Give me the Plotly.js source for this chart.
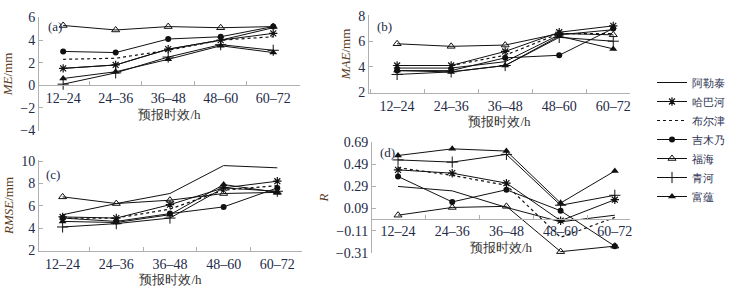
<!DOCTYPE html>
<html>
<head>
<meta charset="utf-8">
<script src="https://cdn.plot.ly/plotly-3.0.1.min.js"></script>
<style>
html,body{margin:0;padding:0;background:#fff;}
#chart{width:737px;height:289px;}
</style>
</head>
<body>
<div id="chart"></div>
<script>
// ---- data ----
const categories = ['12–24','24–36','36–48','48–60','60–72'];
const stations = ['阿勒泰','哈巴河','布尔津','吉木乃','福海','青河','富蕴'];

// (a) ME / mm
const meAletai   = [1.5, 1.8, 3.2, 4.0, 5.1];
const meHabahe   = [1.5, 1.8, 3.2, 4.0, 4.6];
const meBuerjin  = [2.3, 2.4, 3.1, 4.0, 4.3];
const meJimunai  = [3.0, 2.9, 4.1, 4.3, 5.2];
const meFuhai    = [5.3, 4.9, 5.2, 5.1, 5.2];
const meQinghe   = [0.1, 1.1, 2.5, 3.6, 3.1];
const meFuyun    = [0.6, 1.2, 2.3, 3.5, 2.9];

// (b) MAE / mm
const maeAletai  = [3.9, 3.9, 4.4, 6.5, 6.9];
const maeHabahe  = [4.1, 4.1, 5.2, 6.7, 7.2];
const maeBuerjin = [4.1, 4.1, 4.9, 6.6, 6.6];
const maeJimunai = [3.7, 3.7, 4.7, 4.9, 7.0];
const maeFuhai   = [5.8, 5.6, 5.7, 6.6, 6.5];
const maeQinghe  = [3.4, 3.6, 4.1, 6.3, 6.0];
const maeFuyun   = [3.7, 3.6, 4.1, 6.4, 5.4];

// (c) RMSE / mm
const rmseAletai  = [5.2, 6.2, 7.1, 9.6, 9.4];
const rmseHabahe  = [5.0, 4.9, 6.1, 7.6, 8.2];
const rmseBuerjin = [4.9, 4.9, 5.7, 7.4, 7.8];
const rmseJimunai = [4.9, 4.6, 5.3, 5.9, 7.6];
const rmseFuhai   = [6.8, 6.2, 6.5, 7.1, 7.2];
const rmseQinghe  = [4.1, 4.4, 4.9, 7.6, 7.3];
const rmseFuyun   = [4.6, 4.5, 5.2, 7.9, 7.2];

// (d) R
const rAletai  = [0.29, 0.25, 0.10, -0.03, 0.03];
const rHabahe  = [0.44, 0.41, 0.32, -0.02, 0.17];
const rBuerjin = [0.46, 0.39, 0.30, -0.17, 0.01];
const rJimunai = [0.38, 0.15, 0.26, 0.07, -0.25];
const rFuhai   = [0.03, 0.10, 0.11, -0.30, -0.25];
const rQinghe  = [0.53, 0.51, 0.58, 0.12, 0.21];
const rFuyun   = [0.57, 0.63, 0.61, 0.14, 0.43];

const rTicks = [-0.31, -0.11, 0.09, 0.29, 0.49, 0.69];

// ---- styles ----
const INK = '#111';
const styles = [
  {mode:'lines', line:{color:INK, width:1}},
  {mode:'lines+markers', line:{color:INK, width:1}, marker:{symbol:'asterisk-open', size:7, color:INK, line:{width:1.2, color:INK}}},
  {mode:'lines', line:{color:INK, width:1.2, dash:'dot'}},
  {mode:'lines+markers', line:{color:INK, width:1}, marker:{symbol:'circle', size:6, color:INK}},
  {mode:'lines+markers', line:{color:INK, width:1}, marker:{symbol:'triangle-up-open', size:7, color:INK, line:{width:1, color:INK}}},
  {mode:'lines+markers', line:{color:INK, width:1}, marker:{symbol:'cross-thin-open', size:8, color:INK, line:{width:1, color:INK}}},
  {mode:'lines+markers', line:{color:INK, width:1}, marker:{symbol:'triangle-up', size:7, color:INK}}
];

const panels = [
  {xa:'x',  ya:'y',  series:[meAletai,meHabahe,meBuerjin,meJimunai,meFuhai,meQinghe,meFuyun]},
  {xa:'x2', ya:'y2', series:[maeAletai,maeHabahe,maeBuerjin,maeJimunai,maeFuhai,maeQinghe,maeFuyun]},
  {xa:'x3', ya:'y3', series:[rmseAletai,rmseHabahe,rmseBuerjin,rmseJimunai,rmseFuhai,rmseQinghe,rmseFuyun]},
  {xa:'x4', ya:'y4', series:[rAletai,rHabahe,rBuerjin,rJimunai,rFuhai,rQinghe,rFuyun]}
];

const traces = [];
panels.forEach((p, pi) => {
  p.series.forEach((vals, si) => {
    const st = styles[si];
    traces.push(Object.assign({
      type:'scatter', x:categories, y:vals, xaxis:p.xa, yaxis:p.ya,
      name:stations[si], legendgroup:stations[si], showlegend: pi === 0,
      cliponaxis:false
    }, JSON.parse(JSON.stringify(st))));
  });
});

const FONT = 'Times New Roman, Liberation Serif, DejaVu Serif, serif';
const TICKC = '#232a48';
const TITC = '#5a3b22';
const AXC = '#b0b0b0';

function xAxis(domain, range, extra) {
  return Object.assign({
    domain:domain, range:range, type:'category',
    showline:true, linecolor:AXC, linewidth:1, mirror:false,
    showgrid:false, zeroline:false,
    ticks:'inside', ticklen:4, tickcolor:AXC, tickson:'boundaries',
    tickfont:{family:FONT, size:14, color:TICKC},
    title:{text:'预报时效/h', font:{family:FONT, size:13, color:'#333'}, standoff:4},
    automargin:false, fixedrange:true
  }, extra);
}
function yAxis(domain, range, titleText, extra) {
  return Object.assign({
    domain:domain, range:range,
    showline:true, linecolor:AXC, linewidth:1,
    showgrid:false, zeroline:false,
    ticks:'inside', ticklen:4, tickcolor:AXC,
    tickfont:{family:FONT, size:14, color:TICKC},
    title:{text:titleText, font:{family:FONT, size:13, color:TITC}, standoff:4},
    automargin:false, fixedrange:true
  }, extra);
}

const W = 737, H = 289;
const px = v => v / W;
const py = v => 1 - v / H;

const layout = {
  width:W, height:H,
  margin:{l:0, r:0, t:0, b:0},
  paper_bgcolor:'#fff', plot_bgcolor:'rgba(0,0,0,0)',
  font:{family:FONT, size:13, color:TICKC},
  showlegend:true,
  legend:{x:px(652), y:py(68), xanchor:'left', yanchor:'top',
          font:{family:FONT, size:11, color:'#2a2f50'}, tracegroupgap:0,
          itemwidth:30, bgcolor:'rgba(0,0,0,0)'},
  xaxis: xAxis([px(39), px(300)], [-0.46, 4.51], {anchor:'free', position:py(85.4)}),
  yaxis: yAxis([py(131), py(17)], [-4.05, 6.05], '<i>ME</i>/mm', {anchor:'x', dtick:2, tick0:0}),
  xaxis2: xAxis([px(369), px(630)], [-0.52, 4.31], {anchor:'y2'}),
  yaxis2: yAxis([py(93), py(15)], [1.95, 8.05], '<i>MAE</i>/mm', {anchor:'x2', dtick:2, tick0:0}),
  xaxis3: xAxis([px(39), px(302)], [-0.44, 4.46], {anchor:'y3'}),
  yaxis3: yAxis([py(251), py(160)], [1.95, 10.1], '<i>RMSE</i>/mm', {anchor:'x3', dtick:2, tick0:0}),
  xaxis4: xAxis([px(372), px(630)], [-0.48, 4.28], {anchor:'free', position:py(218.6)}),
  yaxis4: yAxis([py(253), py(142)], [-0.312, 0.692], '<i>R</i>', {anchor:'x4', tickvals:rTicks, tickformat:'.2f'}),
  annotations:[
    {text:'(a)', xref:'paper', yref:'paper', x:px(46), y:py(27), xanchor:'left', yanchor:'middle', showarrow:false, font:{family:FONT, size:13, color:TICKC}},
    {text:'(b)', xref:'paper', yref:'paper', x:px(375), y:py(26), xanchor:'left', yanchor:'middle', showarrow:false, font:{family:FONT, size:13, color:TICKC}},
    {text:'(c)', xref:'paper', yref:'paper', x:px(44), y:py(174), xanchor:'left', yanchor:'middle', showarrow:false, font:{family:FONT, size:13, color:TICKC}},
    {text:'(d)', xref:'paper', yref:'paper', x:px(378), y:py(152), xanchor:'left', yanchor:'middle', showarrow:false, font:{family:FONT, size:13, color:TICKC}}
  ]
};

Plotly.newPlot('chart', traces, layout, {displayModeBar:false, staticPlot:true});
</script>
</body>
</html>
